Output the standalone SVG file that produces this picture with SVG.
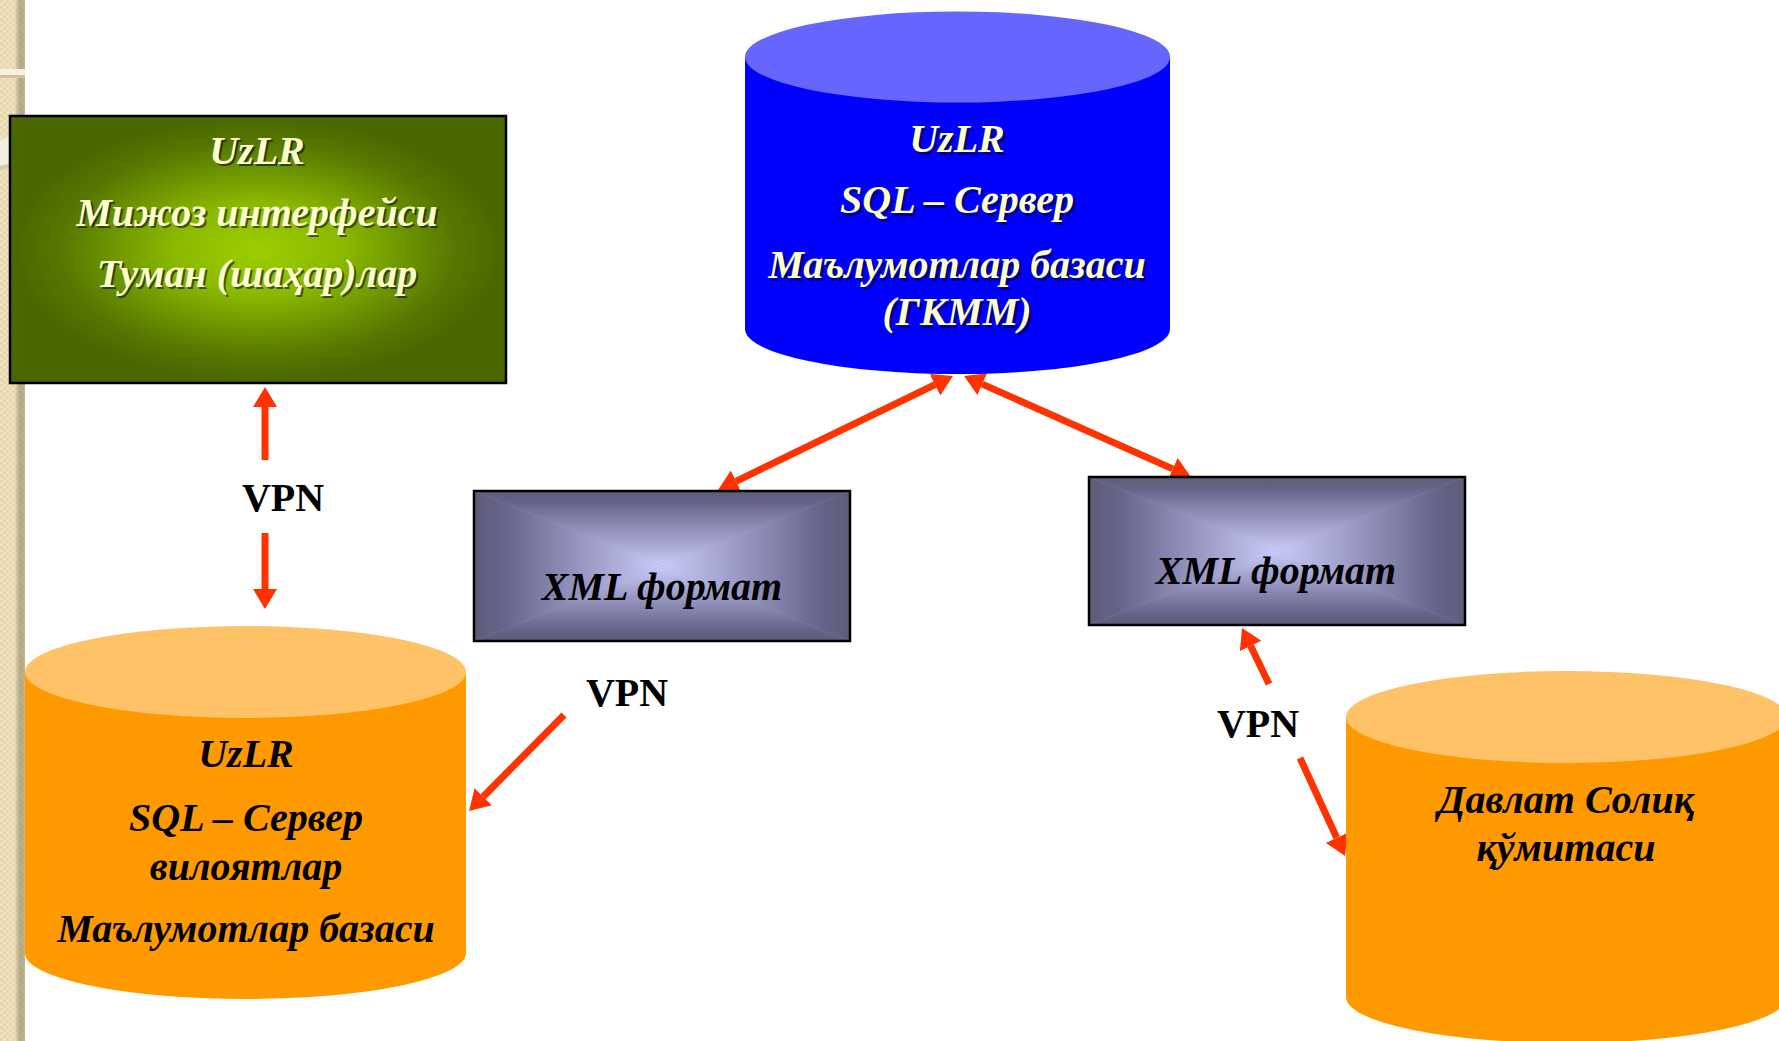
<svg xmlns="http://www.w3.org/2000/svg" width="1779" height="1041" viewBox="0 0 1779 1041">
<style>
.t{font-family:"Liberation Serif","Times New Roman",serif;font-weight:bold;font-style:italic;font-size:40px;text-anchor:middle}
.lt{fill:#ffffcc}
.sh{fill:#000022;opacity:0.55}
.dk{fill:#000000}
.vpn{font-family:"Liberation Serif","Times New Roman",serif;font-weight:bold;font-size:40px;text-anchor:middle;fill:#000}
.ar{stroke:#ff3300;stroke-width:7;fill:none}
.bx{fill:none;stroke:#000;stroke-width:2.5}
</style>
<defs>
<pattern id="tex" width="6" height="6" patternUnits="userSpaceOnUse">
<rect width="6" height="6" fill="#efe3bf"/>
<rect width="3" height="3" fill="#e6d7ad"/>
<rect x="3" y="3" width="3" height="3" fill="#e6d7ad"/>
</pattern>
<linearGradient id="edge" x1="0" y1="0" x2="1" y2="0">
<stop offset="0" stop-color="#000" stop-opacity="0"/>
<stop offset="1" stop-color="#b8a77a" stop-opacity="0.7"/>
</linearGradient>
<marker id="ah" viewBox="0 0 20 24" refX="0" refY="12" markerWidth="20" markerHeight="24" markerUnits="userSpaceOnUse" orient="auto-start-reverse">
<path d="M0,0 L20,12 L0,24 Z" fill="#ff3300"/>
</marker>
<radialGradient id="green" cx="0.5" cy="0.5" r="0.5">
<stop offset="0" stop-color="#9ccf00"/>
<stop offset="0.35" stop-color="#8ab800"/>
<stop offset="0.8" stop-color="#557700"/>
<stop offset="1" stop-color="#4a6600"/>
</radialGradient>
<!-- left xml box -->
<linearGradient id="aT" gradientUnits="userSpaceOnUse" x1="0" y1="491" x2="0" y2="566"><stop offset="0" stop-color="#5c5c78"/><stop offset="0.15" stop-color="#64648a"/><stop offset="1" stop-color="#cbcbfa"/></linearGradient>
<linearGradient id="aB" gradientUnits="userSpaceOnUse" x1="0" y1="641" x2="0" y2="566"><stop offset="0" stop-color="#5c5c78"/><stop offset="0.15" stop-color="#64648a"/><stop offset="1" stop-color="#cbcbfa"/></linearGradient>
<linearGradient id="aL" gradientUnits="userSpaceOnUse" x1="474" y1="0" x2="662" y2="0"><stop offset="0" stop-color="#5c5c78"/><stop offset="0.15" stop-color="#64648a"/><stop offset="1" stop-color="#cbcbfa"/></linearGradient>
<linearGradient id="aR" gradientUnits="userSpaceOnUse" x1="850" y1="0" x2="662" y2="0"><stop offset="0" stop-color="#5c5c78"/><stop offset="0.15" stop-color="#64648a"/><stop offset="1" stop-color="#cbcbfa"/></linearGradient>
<!-- right xml box -->
<linearGradient id="bT" gradientUnits="userSpaceOnUse" x1="0" y1="477" x2="0" y2="551"><stop offset="0" stop-color="#5c5c78"/><stop offset="0.15" stop-color="#64648a"/><stop offset="1" stop-color="#cbcbfa"/></linearGradient>
<linearGradient id="bB" gradientUnits="userSpaceOnUse" x1="0" y1="625" x2="0" y2="551"><stop offset="0" stop-color="#5c5c78"/><stop offset="0.15" stop-color="#64648a"/><stop offset="1" stop-color="#cbcbfa"/></linearGradient>
<linearGradient id="bL" gradientUnits="userSpaceOnUse" x1="1089" y1="0" x2="1277" y2="0"><stop offset="0" stop-color="#5c5c78"/><stop offset="0.15" stop-color="#64648a"/><stop offset="1" stop-color="#cbcbfa"/></linearGradient>
<linearGradient id="bR" gradientUnits="userSpaceOnUse" x1="1465" y1="0" x2="1277" y2="0"><stop offset="0" stop-color="#5c5c78"/><stop offset="0.15" stop-color="#64648a"/><stop offset="1" stop-color="#cbcbfa"/></linearGradient>
</defs>

<rect width="1779" height="1041" fill="#ffffff"/>

<!-- decorative left strip -->
<g id="strip">
<rect x="0" y="0" width="25" height="1041" fill="url(#tex)"/>
<rect x="15" y="0" width="10" height="1041" fill="url(#edge)"/>
<rect x="0" y="69" width="25" height="6" fill="#f8f0da"/>
<rect x="0" y="75" width="25" height="3" fill="#cfc2a0"/>
<path d="M0,140 L25,132 L25,160 L0,166 Z" fill="#f3ede0"/>
<path d="M0,166 L25,160 L25,164 L0,170 Z" fill="#d5c9a8"/>
</g>

<!-- connectors -->
<g id="connectors">
<line class="ar" x1="265" y1="460" x2="265" y2="407" marker-end="url(#ah)"/>
<line class="ar" x1="265" y1="533" x2="265" y2="589" marker-end="url(#ah)"/>
<line class="ar" x1="564" y1="715" x2="483.1" y2="796.8" marker-end="url(#ah)"/>
<line class="ar" x1="935" y1="384.7" x2="736" y2="481.3" marker-start="url(#ah)" marker-end="url(#ah)"/>
<line class="ar" x1="982.3" y1="384.1" x2="1172.7" y2="468.9" marker-start="url(#ah)" marker-end="url(#ah)"/>
<line class="ar" x1="1269" y1="684" x2="1250.7" y2="646" marker-end="url(#ah)"/>
<line class="ar" x1="1300" y1="758" x2="1336.7" y2="837.8" marker-end="url(#ah)"/>
<text class="vpn" x="283" y="511">VPN</text>
<text class="vpn" x="627" y="706">VPN</text>
<text class="vpn" x="1258" y="737">VPN</text>
</g>

<!-- green client interface box -->
<g id="client">
<rect x="10" y="116" width="496" height="267" fill="url(#green)"/>
<rect class="bx" x="10" y="116" width="496" height="267"/>
<text class="t sh" x="259" y="166">UzLR</text>
<text class="t lt" x="257" y="164">UzLR</text>
<text class="t sh" x="259" y="228">Мижоз интерфейси</text>
<text class="t lt" x="257" y="226">Мижоз интерфейси</text>
<text class="t sh" x="259" y="289">Туман (шаҳар)лар</text>
<text class="t lt" x="257" y="287">Туман (шаҳар)лар</text>
</g>

<!-- blue central database -->
<g id="central-db">
<path d="M745,57 L745,329 A212.5,45 0 0 0 1170,329 L1170,57 Z" fill="#0000ff"/>
<ellipse cx="957.5" cy="57" rx="212.5" ry="45.5" fill="#6666ff"/>
<text class="t sh" x="960" y="155">UzLR</text>
<text class="t lt" x="957" y="152">UzLR</text>
<text class="t sh" x="960" y="216">SQL – Сервер</text>
<text class="t lt" x="957" y="213">SQL – Сервер</text>
<text class="t sh" x="960" y="281">Маълумотлар базаси</text>
<text class="t lt" x="957" y="278">Маълумотлар базаси</text>
<text class="t sh" x="960" y="328">(ГКММ)</text>
<text class="t lt" x="957" y="325">(ГКММ)</text>
</g>

<!-- left XML box -->
<g id="xml-left">
<rect x="474" y="491" width="376" height="150" fill="#9898c0"/>
<polygon points="474,491 850,491 662,566" fill="url(#aT)"/>
<polygon points="474,641 850,641 662,566" fill="url(#aB)"/>
<polygon points="474,491 474,641 662,566" fill="url(#aL)"/>
<polygon points="850,491 850,641 662,566" fill="url(#aR)"/>
<rect class="bx" x="474" y="491" width="376" height="150"/>
<text class="t dk" x="662" y="600">XML формат</text>
</g>

<!-- right XML box -->
<g id="xml-right">
<rect x="1089" y="477" width="376" height="148" fill="#9898c0"/>
<polygon points="1089,477 1465,477 1277,551" fill="url(#bT)"/>
<polygon points="1089,625 1465,625 1277,551" fill="url(#bB)"/>
<polygon points="1089,477 1089,625 1277,551" fill="url(#bL)"/>
<polygon points="1465,477 1465,625 1277,551" fill="url(#bR)"/>
<rect class="bx" x="1089" y="477" width="376" height="148"/>
<text class="t dk" x="1276" y="584">XML формат</text>
</g>

<!-- left orange regional database -->
<g id="regional-db">
<path d="M25,672 L25,953 A220.5,46 0 0 0 466,953 L466,672 Z" fill="#ff9900"/>
<ellipse cx="245.5" cy="672" rx="220.5" ry="46" fill="#ffc266"/>
<text class="t dk" x="246" y="767">UzLR</text>
<text class="t dk" x="246" y="831">SQL – Сервер</text>
<text class="t dk" x="246" y="880">вилоятлар</text>
<text class="t dk" x="246" y="942">Маълумотлар базаси</text>
</g>

<!-- right orange tax committee -->
<g id="tax-db">
<path d="M1346,717 L1346,997 A220.5,46 0 0 0 1787,997 L1787,717 Z" fill="#ff9900"/>
<ellipse cx="1566.5" cy="717" rx="220.5" ry="46" fill="#ffc266"/>
<text class="t dk" x="1566" y="813">Давлат Солиқ</text>
<text class="t dk" x="1566" y="861">қўмитаси</text>
</g>
</svg>
